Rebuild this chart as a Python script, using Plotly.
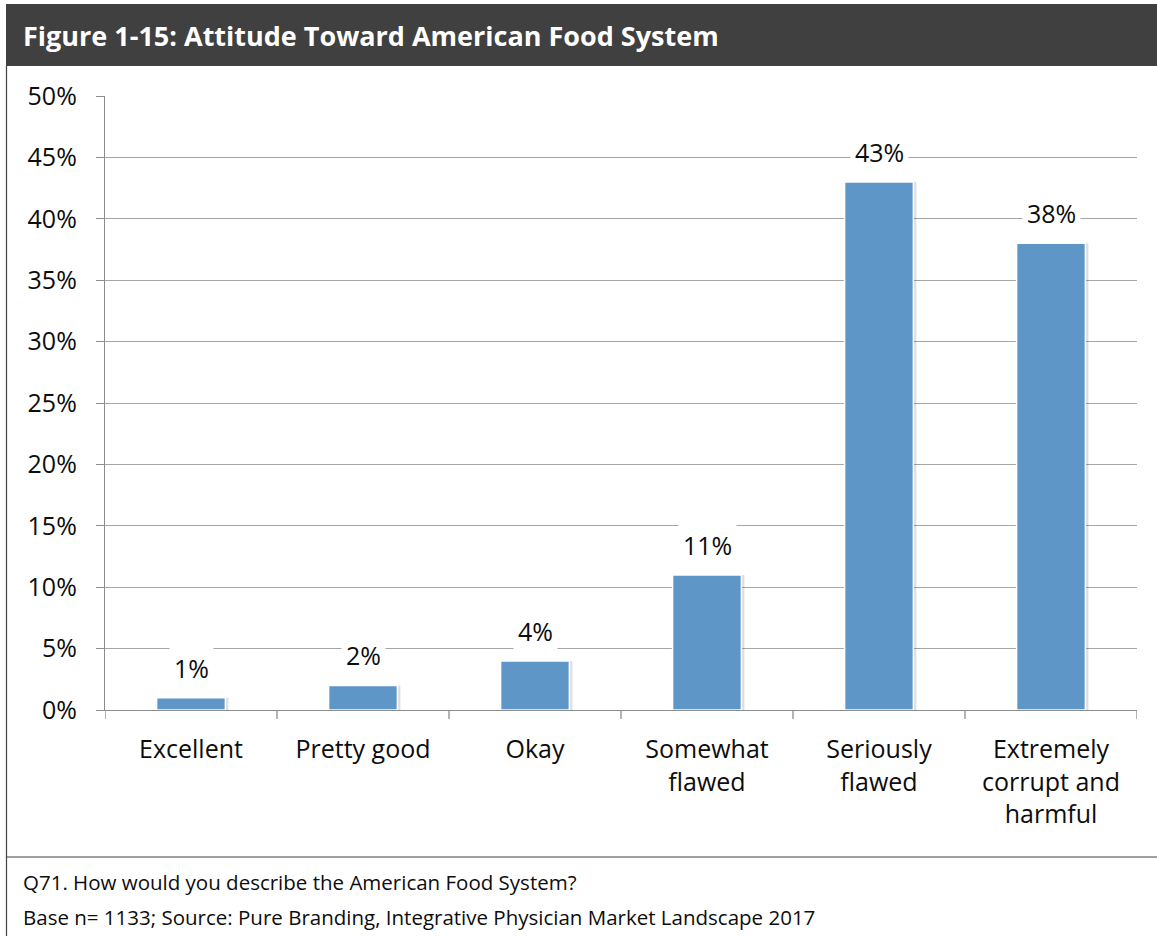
import plotly.graph_objects as go

# Survey results: attitude toward the American food system
categories = ["Excellent", "Pretty good", "Okay", "Somewhat<br>flawed",
              "Seriously<br>flawed", "Extremely<br>corrupt and<br>harmful"]
values = [1, 2, 4, 11, 43, 38]
y_ticks = [0, 5, 10, 15, 20, 25, 30, 35, 40, 45, 50]
y_tick_labels = [f"{v}%" for v in y_ticks]

title_text = "Figure 1-15: Attitude Toward American Food System"
footer_lines = ["Q71. How would you describe the American Food System?",
                "Base n= 1133; Source: Pure Branding, Integrative Physician Market Landscape 2017"]

W, H = 1157, 936
L, R, T, B = 105, 20, 96, 226
PW, PH = W - L - R, H - T - B
FONT = "Open Sans"
TXT = "#0d0d0d"
BAR_COLOR = "#5F96C8"
BAR_W = 0.4


def px_x(p):
    return (p - L) / PW


def px_y(p):
    return (H - B - p) / PH


fig = go.Figure()
# soft drop shadow on the right of each bar
fig.add_trace(go.Bar(
    x=categories, y=values, width=BAR_W, offset=-BAR_W / 2 + 3 / 172,
    marker=dict(color="rgba(0,0,0,0.13)", line=dict(width=0)),
    hoverinfo="skip",
))
fig.add_trace(go.Bar(
    x=categories, y=values, width=BAR_W, offset=-BAR_W / 2,
    marker=dict(color=BAR_COLOR, line=dict(color="white", width=1.5)),
    hoverinfo="skip",
))

# value labels above the bars, on a white box that interrupts the gridlines
for c, v in zip(categories, values):
    fig.add_annotation(x=c, y=v, text=f"{v}%", showarrow=False, yshift=30,
                       font=dict(family=FONT, size=25, color=TXT),
                       bgcolor="white", borderpad=4)

shapes = [
    # header band
    dict(type="rect", xref="paper", yref="paper", x0=px_x(6), x1=px_x(W + 5),
         y0=px_y(66), y1=px_y(4), fillcolor="#404040", line=dict(width=0), layer="below"),
    # outer frame left edge
    dict(type="line", xref="paper", yref="paper", x0=px_x(6.5), x1=px_x(6.5),
         y0=px_y(66), y1=px_y(H + 5), line=dict(color="#404040", width=1.2)),
    # footer divider
    dict(type="line", xref="paper", yref="paper", x0=px_x(6), x1=px_x(W + 5),
         y0=px_y(857), y1=px_y(857), line=dict(color="#404040", width=1.2)),
]

# category boundary ticks below the axis
for i in range(len(categories) + 1):
    xb = i - 0.5
    shapes.append(dict(type="line", xref="x", yref="paper", x0=xb, x1=xb,
                       y0=0, y1=px_y(H - B + 9), line=dict(color="#8c8c8c", width=1.3)))

fig.update_layout(shapes=shapes)

fig.add_annotation(xref="paper", yref="paper", x=px_x(21), y=px_y(36),
                   xanchor="left", yanchor="middle", showarrow=False,
                   text=f"<b>{title_text}</b>",
                   font=dict(family=FONT, size=27, color="white"))
for i, line in enumerate(footer_lines):
    fig.add_annotation(xref="paper", yref="paper", x=px_x(21), y=px_y(882 + i * 35),
                       xanchor="left", yanchor="middle", showarrow=False,
                       text=line, font=dict(family=FONT, size=20.5, color=TXT))

fig.update_layout(
    width=W, height=H,
    margin=dict(l=L, r=R, t=T, b=B),
    paper_bgcolor="white", plot_bgcolor="white",
    showlegend=False,
    font=dict(family=FONT, color=TXT),
    barmode="overlay",
)
fig.update_yaxes(
    range=[0, 50], tickvals=y_ticks, ticktext=y_tick_labels,
    showgrid=True, gridcolor="#a6a6a6", gridwidth=1.3,
    showline=True, linecolor="#8c8c8c", linewidth=1.3,
    ticks="outside", ticklen=8, tickcolor="#8c8c8c", tickwidth=1.3,
    tickfont=dict(family=FONT, size=25, color=TXT),
    ticklabelstandoff=14,
    zeroline=False, fixedrange=True,
)
fig.update_xaxes(
    range=[-0.5, len(categories) - 0.5],
    showline=True, linecolor="#8c8c8c", linewidth=1.3,
    ticks="", tickfont=dict(family=FONT, size=25, color=TXT),
    ticklabelstandoff=17,
    fixedrange=True,
)

fig.write_html("out.html", config={"displayModeBar": False})
